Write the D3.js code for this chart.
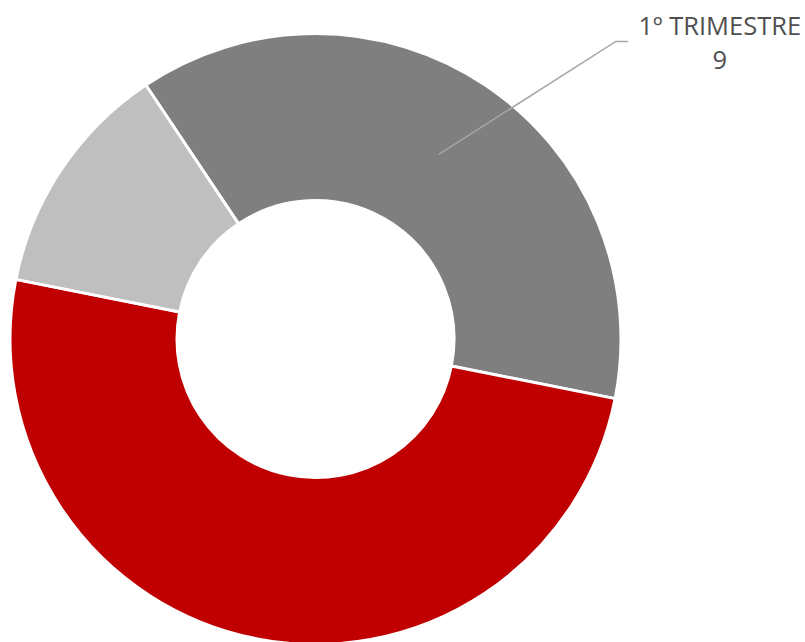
<!DOCTYPE html>
<html>
<head>
<meta charset="utf-8">
<script src="https://cdn.jsdelivr.net/npm/d3@7"></script>
<style>
  html, body { margin: 0; padding: 0; background: #fff; }
  svg { display: block; }
</style>
</head>
<body>
<div id="chart"></div>
<script>
// Data
const categories = ["1º TRIMESTRE", "2º TRIMESTRE", "3º TRIMESTRE"];
const values = [9, 12, 3];
const labelled = ["1º TRIMESTRE"];

// Chart settings
const width = 805, height = 642;
const cx = 315.5, cy = 339;
const outerR = 305.5, innerR = 138.5;
const startDeg = -33.75;

const color = d3.scaleOrdinal()
  .domain(categories)
  .range(["#7f7f7f", "#c00000", "#bfbfbf"]);

const svg = d3.select("#chart")
  .append("svg")
  .attr("width", width)
  .attr("height", height);

const g = svg.append("g")
  .attr("transform", `translate(${cx},${cy})`);

const pie = d3.pie()
  .sort(null)
  .value(d => d.value)
  .startAngle(startDeg * Math.PI / 180)
  .endAngle((startDeg + 360) * Math.PI / 180);

const arc = d3.arc()
  .innerRadius(innerR)
  .outerRadius(outerR);

const data = pie(categories.map((c, i) => ({ name: c, value: values[i] })));

// Slices
g.selectAll(".slice")
  .data(data)
  .enter()
  .append("path")
  .attr("class", "slice")
  .attr("d", arc)
  .attr("fill", d => color(d.data.name))
  .attr("stroke", "#fff")
  .attr("stroke-width", 3);

// Label with leader line
const labels = data.filter(d => labelled.includes(d.data.name));

labels.forEach(d => {
  const [x0, y0] = arc.centroid(d);
  const x1 = x0 + 177, y1 = y0 - 113;
  const x2 = x1 + 12;

  g.append("polyline")
    .attr("points", `${x0},${y0} ${x1},${y1} ${x2},${y1}`)
    .attr("fill", "none")
    .attr("stroke", "#a6a6a6")
    .attr("stroke-width", 1.5);

  const t = g.append("text")
    .attr("x", x2 + 92)
    .attr("y", y1 - 6)
    .attr("text-anchor", "middle")
    .attr("fill", "#505050")
    .style("font-family", "'Open Sans', sans-serif")
    .style("font-size", "25.5px");

  t.append("tspan")
    .attr("x", x2 + 92)
    .text(d.data.name);
  t.append("tspan")
    .attr("x", x2 + 92)
    .attr("dy", 34)
    .text(d.value);
});
</script>
</body>
</html>
